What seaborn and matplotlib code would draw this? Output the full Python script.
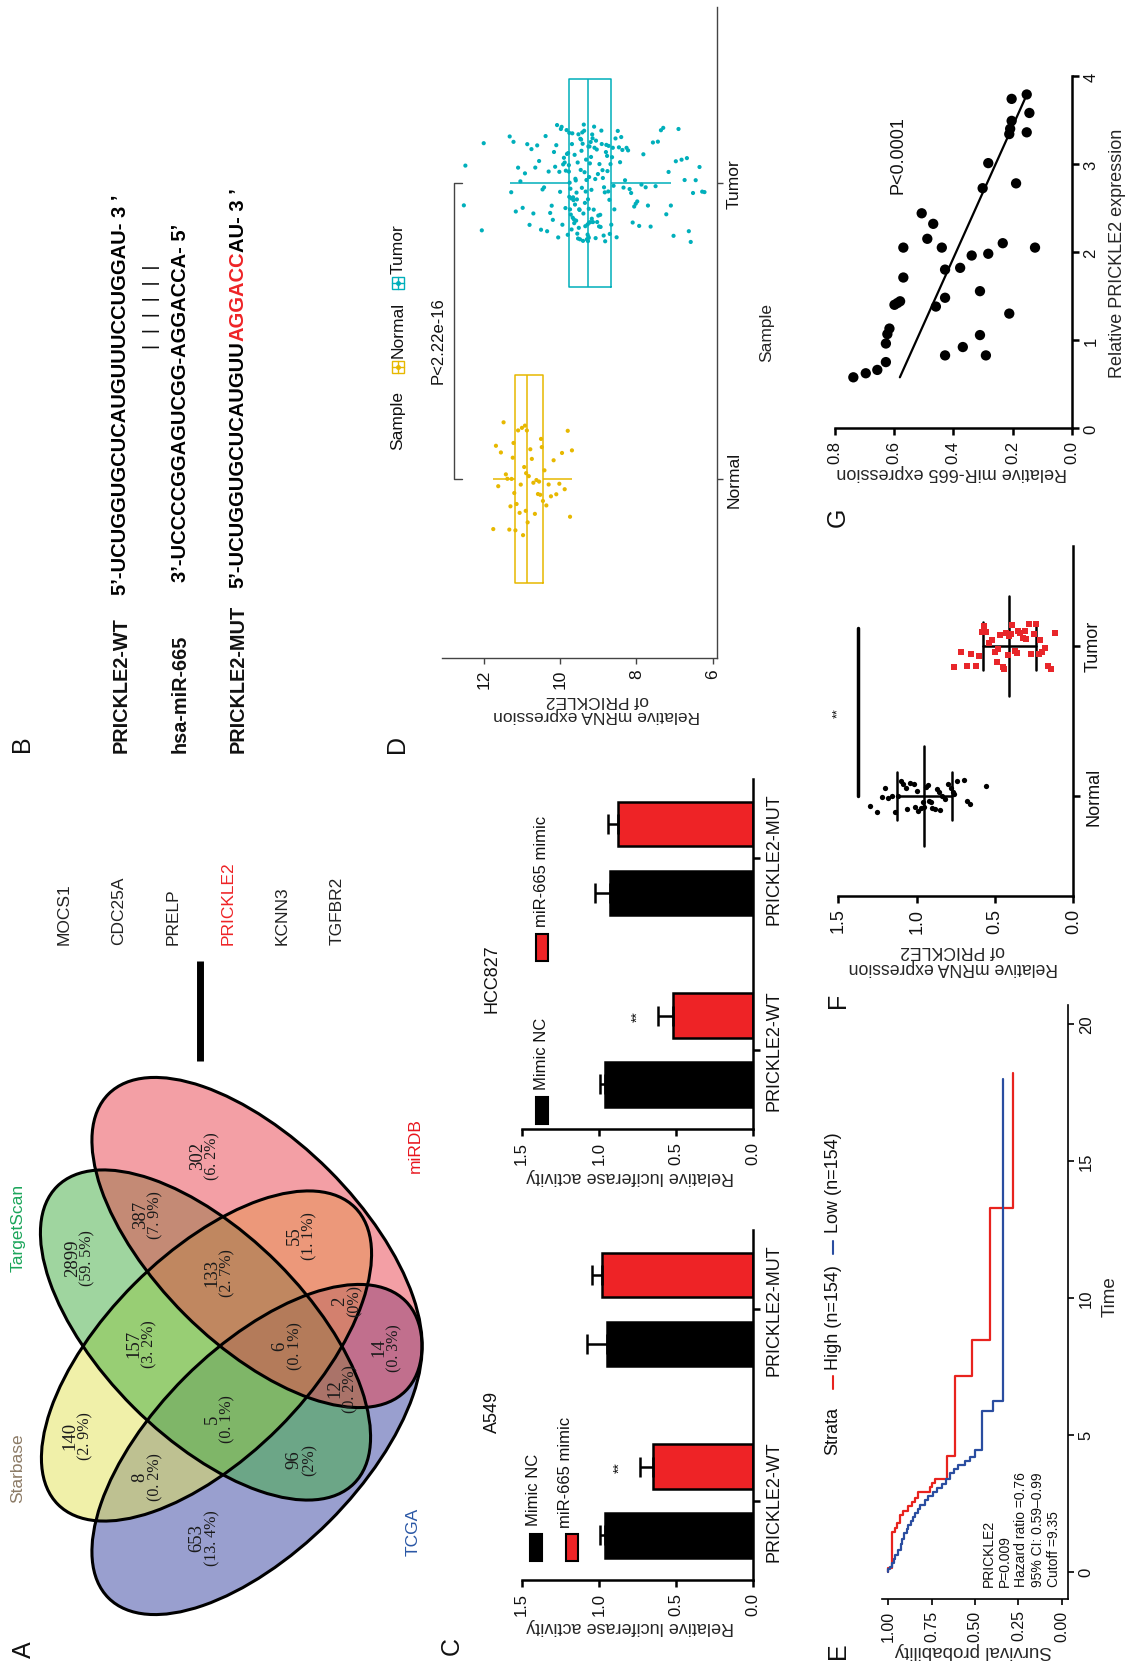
import numpy as np
import pandas as pd
import matplotlib
matplotlib.use('Agg')
import matplotlib.pyplot as plt
import seaborn as sns
from matplotlib.patches import Ellipse, Rectangle

W, H = 1127, 1665

# ---------------- data ----------------
# A: venn of predicted targets
venn_sets = ['Starbase', 'TargetScan', 'miRDB', 'TCGA']
venn_fill = ['#E3E355', '#41AD41', '#E9414D', '#3541A1']
venn_label_col = ['#8C7B66', '#1BA55A', '#E8161E', '#2A57A5']
venn_counts = ['140', '2899', '302', '653', '8', '387', '157', '133',
               '5', '55', '96', '6', '2', '12', '14']
venn_pcts = ['(2. 9%)', '(59. 5%)', '(6. 2%)', '(13. 4%)', '(0. 2%)', '(7. 9%)',
             '(3. 2%)', '(2. 7%)', '(0. 1%)', '(1. 1%)', '(2%)', '(0. 1%)',
             '(0%)', '(0. 2%)', '(0. 3%)']
common_genes = ['MOCS1', 'CDC25A', 'PRELP', 'PRICKLE2', 'KCNN3', 'TGFBR2']

# B: binding site
wt_seq = '5\u2019-UCUGGUGCUCAUGUUUCCUGGAU- 3 \u2019'
mir_seq = '3\u2019-UCCCCGGAGUCGG-AGGACCA- 5\u2019'
mut_seq = ['5\u2019-UCUGGUGCUCAUGUU', 'AGGACC', 'AU- 3 \u2019']

# C: luciferase (WT-NC, WT-mimic, MUT-NC, MUT-mimic)
c_cats = ['PRICKLE2-WT', 'PRICKLE2-MUT']
c_treat = ['Mimic NC', 'miR-665 mimic']
a549_mean = [0.96, 0.65, 0.95, 0.98]
a549_sd = [0.035, 0.085, 0.13, 0.065]
hcc_mean = [0.96, 0.52, 0.93, 0.875]
hcc_sd = [0.03, 0.097, 0.097, 0.065]

# D: TCGA expression
normal_expr = [11.75, 11.68, 11.62, 11.55, 11.48, 11.42, 11.38, 11.33, 11.3, 11.27,
               11.24, 11.22, 11.2, 11.17, 11.14, 11.1, 11.06, 11.03, 11.0, 10.97,
               10.94, 10.92, 10.9, 10.89, 10.87, 10.85, 10.82, 10.78, 10.74, 10.7,
               10.66, 10.62, 10.58, 10.55, 10.52, 10.5, 10.48, 10.45, 10.41, 10.36,
               10.3, 10.24, 10.17, 10.1, 10.02, 9.95, 9.88, 9.8, 9.74, 9.69]
tumor_expr = [6.22, 6.28, 6.35, 6.45, 6.52, 6.58, 6.63, 6.68, 6.74, 6.82, 6.9, 6.97,
              7.03, 7.1, 7.16, 7.22, 7.3, 7.36, 7.44, 7.5, 7.57, 7.63, 7.7, 7.76, 7.82,
              7.87, 7.93, 7.98, 8.02, 8.06, 8.1, 8.14, 8.18, 8.22, 8.26, 8.3, 8.34, 8.37,
              8.4, 8.43, 8.46, 8.49, 8.52, 8.55, 8.58, 8.6, 8.62, 8.64, 8.66, 8.68,
              8.7, 8.71, 8.73, 8.74, 8.76, 8.77, 8.79, 8.8, 8.82, 8.83, 8.85, 8.86, 8.88,
              8.89, 8.91, 8.92, 8.94, 8.95, 8.97, 8.98, 9.0, 9.01, 9.03, 9.04, 9.06, 9.07,
              9.08, 9.1, 9.11, 9.12, 9.14, 9.15, 9.16, 9.17, 9.18, 9.19, 9.2, 9.21, 9.22,
              9.23, 9.24, 9.24, 9.25, 9.25, 9.26, 9.26, 9.27, 9.27, 9.28, 9.28,
              9.3, 9.31, 9.32, 9.33, 9.34, 9.35, 9.36, 9.37, 9.38, 9.39, 9.4, 9.41, 9.42,
              9.43, 9.44, 9.45, 9.46, 9.47, 9.48, 9.49, 9.5, 9.51, 9.52, 9.53, 9.54, 9.55,
              9.56, 9.57, 9.58, 9.59, 9.6, 9.61, 9.62, 9.63, 9.64, 9.65, 9.66, 9.67, 9.68,
              9.69, 9.7, 9.71, 9.72, 9.73, 9.74, 9.75, 9.76, 9.76, 9.77, 9.77,
              9.79, 9.8, 9.82, 9.83, 9.85, 9.86, 9.88, 9.9, 9.92, 9.94, 9.96, 9.98,
              10.0, 10.02, 10.05, 10.08, 10.1, 10.13, 10.16, 10.19, 10.22, 10.26, 10.3,
              10.34, 10.38, 10.42, 10.46, 10.5, 10.55, 10.6, 10.65, 10.7, 10.75, 10.8,
              10.86, 10.92, 10.98, 11.04, 11.1, 11.16, 11.22, 11.28, 11.32,
              12.0, 12.05, 12.48, 12.52]
d_palette = {'Normal': '#E7B800', 'Tumor': '#00AFBB'}

# E: Kaplan-Meier
high_time = [0, 0.15, 1.46, 1.6, 1.77, 2.08, 2.23, 2.38, 2.54, 2.7, 2.92, 3.08, 3.23,
             3.38, 4.23, 7.15, 8.46, 13.3]
high_surv = [1.0, 0.98, 0.96, 0.948, 0.933, 0.913, 0.885, 0.865, 0.846, 0.827, 0.76,
             0.75, 0.73, 0.663, 0.615, 0.519, 0.413, 0.279]
high_end = 18.2
low_time = [0, 0.08, 0.18, 0.3, 0.45, 0.62, 0.8, 1.0, 1.2, 1.4, 1.55, 1.7, 1.85, 2.0,
            2.15, 2.3, 2.45, 2.6, 2.75, 2.9, 3.05, 3.2, 3.4, 3.6, 3.75, 3.9, 4.05, 4.2,
            4.46, 5.85, 6.23]
low_surv = [1.0, 0.99, 0.98, 0.97, 0.96, 0.945, 0.93, 0.92, 0.91, 0.895, 0.885, 0.87,
            0.86, 0.845, 0.83, 0.815, 0.79, 0.77, 0.745, 0.72, 0.69, 0.665, 0.645, 0.62,
            0.6, 0.56, 0.53, 0.5, 0.46, 0.395, 0.337]
low_end = 18.0

# F: qPCR tissues
f_normal = [1.30, 1.25, 1.22, 1.20, 1.18, 1.16, 1.14, 1.12, 1.10, 1.09, 1.07, 1.06,
            1.04, 1.02, 1.01, 1.00, 0.99, 0.97, 0.96, 0.95, 0.94, 0.93, 0.92, 0.91,
            0.90, 0.88, 0.87, 0.86, 0.85, 0.84, 0.82, 0.80, 0.78, 0.77, 0.76, 0.74,
            0.70, 0.68, 0.66, 0.56]
f_tumor = [0.76, 0.72, 0.68, 0.65, 0.62, 0.60, 0.58, 0.57, 0.56, 0.54, 0.52, 0.50,
           0.49, 0.48, 0.47, 0.45, 0.44, 0.43, 0.42, 0.41, 0.40, 0.39, 0.37, 0.36,
           0.35, 0.34, 0.32, 0.31, 0.30, 0.28, 0.27, 0.25, 0.24, 0.22, 0.21, 0.20,
           0.18, 0.16, 0.14, 0.12]

# G: correlation
g_prickle = [0.576, 0.622, 0.66, 0.749, 0.96, 1.067, 1.13, 1.40, 1.42, 1.44, 1.71, 2.05,
             2.44, 2.15, 2.32, 2.05, 1.80, 1.82, 1.38, 1.48, 0.825, 0.92, 1.96, 1.056,
             1.555, 0.825, 1.98, 2.725, 3.01, 2.10, 1.30, 3.34, 3.40, 3.49, 3.74, 2.78,
             3.36, 3.58, 3.79, 2.05]
g_mir = [0.738, 0.696, 0.657, 0.628, 0.628, 0.623, 0.616, 0.599, 0.589, 0.580, 0.569,
         0.569, 0.507, 0.488, 0.468, 0.439, 0.428, 0.377, 0.459, 0.428, 0.428, 0.368,
         0.338, 0.310, 0.310, 0.290, 0.282, 0.301, 0.282, 0.233, 0.211, 0.211, 0.208,
         0.203, 0.203, 0.188, 0.152, 0.143, 0.152, 0.124]

RED = '#EE2326'

# ---------------- figure ----------------
sns.set_style('white')
plt.rcParams['font.family'] = ['Liberation Sans', 'DejaVu Sans']
plt.rcParams['text.color'] = '#111111'

fig = plt.figure(figsize=(W / 100, H / 100), dpi=100, facecolor='white')
canvas = fig.add_axes([0, 0, 1, 1])
canvas.set_xlim(0, W)
canvas.set_ylim(H, 0)
canvas.axis('off')


def ctext(x, y, s, size, rot=90, ha='center', va='center', **kw):
    return canvas.text(x, y, s, fontsize=size, rotation=rot, ha=ha, va=va, **kw)


def panel_axes(box):
    x0, y0, x1, y1 = box
    ax = fig.add_axes([x0 / W, 1 - y1 / H, (x1 - x0) / W, (y1 - y0) / H])
    ax.set_facecolor('none')
    for s in ['top', 'left']:
        ax.spines[s].set_visible(False)
    ax.yaxis.tick_right()
    ax.yaxis.set_label_position('right')
    return ax


def style_ticks(ax, xsize, ysize, lw, color='black', length=5):
    ax.tick_params(axis='both', direction='out', length=length, width=lw, colors=color,
                   bottom=True, right=True, left=False, top=False)
    for lab in ax.get_xticklabels():
        lab.set_rotation(90)
        lab.set_ha('center')
        lab.set_va('top')
        lab.set_fontsize(xsize)
        lab.set_color('#111111')
    for lab in ax.get_yticklabels():
        lab.set_rotation(90)
        lab.set_ha('left')
        lab.set_va('center')
        lab.set_fontsize(ysize)
        lab.set_color('#111111')
    for s in ['bottom', 'right']:
        ax.spines[s].set_linewidth(lw)
        ax.spines[s].set_color(color)


def xlabel_at(ax, box, text, x_px, y_px, size):
    x0, y0, x1, y1 = box
    ax.set_xlabel(text, fontsize=size, rotation=180, ha='center', va='center', linespacing=1.05)
    ax.xaxis.set_label_coords((x_px - x0) / (x1 - x0), (y1 - y_px) / (y1 - y0))


def ylabel_at(ax, box, text, x_px, y_px, size):
    x0, y0, x1, y1 = box
    ax.set_ylabel(text, fontsize=size, rotation=90, ha='center', va='center')
    ax.yaxis.set_label_coords((x_px - x0) / (x1 - x0), (y1 - y_px) / (y1 - y0))


# panel letters
for lab, (lx, ly) in zip('ABCDEFG', [(24, 1650), (22, 744), (452, 1646), (397, 744),
                                    (838, 1651), (838, 1000), (838, 517)]):
    ctext(lx, ly, lab, 18)

# ---------------- A: venn ----------------
venn_centers = [(206.5, 1357), (205.5, 1336), (257, 1243.5), (257, 1450.5)]
venn_angles = [-45, 45, 45, -45]
# TCGA goes under, miRDB on top
for i in [3, 0, 1, 2]:
    canvas.add_patch(Ellipse(venn_centers[i], 420, 204, angle=venn_angles[i],
                             facecolor=venn_fill[i], alpha=0.5, edgecolor='none'))
for (cx, cy), ang in zip(venn_centers, venn_angles):
    canvas.add_patch(Ellipse((cx, cy), 420, 204, angle=ang, fill=False,
                             edgecolor='black', lw=2.2))
region_xy = [(78, 1436), (80, 1258), (205, 1156), (205, 1538), (148, 1477), (148, 1215),
             (142, 1344), (220, 1273), (220, 1419), (302, 1236), (302, 1460), (288, 1346),
             (347, 1301), (343, 1389), (387, 1348)]
for (rx, ry), cnt, pct in zip(region_xy, venn_counts, venn_pcts):
    ctext(rx - 7.8, ry, cnt, 13.5, family='Liberation Serif', color='#1a1a1a')
    ctext(rx + 7.8, ry, pct, 11.5, family='Liberation Serif', color='#1a1a1a')
for name, col, (lx, ly) in zip(venn_sets, venn_label_col,
                               [(18, 1468), (18, 1228), (415, 1146), (413, 1532)]):
    ctext(lx, ly, name, 12.5, color=col)

# gene list + bar
for i, g in enumerate(common_genes):
    ctext(64 + i * 54.6, 945, g, 12.5, va='bottom',
          color=RED if g == 'PRICKLE2' else '#222222')
canvas.plot([200, 200], [962, 1062], color='black', lw=5, solid_capstyle='butt')

# ---------------- B: sequences ----------------
renderer = fig.canvas.get_renderer()
inv = canvas.transData.inverted()


def seq_text(x, y, parts, size=14.5):
    for s, c in parts:
        t = ctext(x, y, s, size, va='bottom', color=c, fontweight='bold')
        bb = t.get_window_extent(renderer)
        y = inv.transform((bb.x0, bb.y1))[1]


ctext(121, 753, 'PRICKLE2-WT', 14.3, va='bottom', fontweight='bold')
ctext(180, 753, 'hsa-miR-665', 14.3, va='bottom', fontweight='bold')
ctext(238, 753, 'PRICKLE2-MUT', 14.3, va='bottom', fontweight='bold')
seq_text(121, 595, [(wt_seq, 'black')])
seq_text(180, 582, [(mir_seq, 'black')])
seq_text(238, 588, [(mut_seq[0], 'black'), (mut_seq[1], RED), (mut_seq[2], 'black')])
ctext(151, 349, '|  |  |  |  |  |', 14, va='bottom')

# ---------------- C: luciferase ----------------
def bar_panel(box, means, sds):
    ax = panel_axes(box)
    df = pd.DataFrame({'cat': np.repeat(c_cats, 2), 'treat': c_treat * 2, 'val': means})
    sns.barplot(data=df, x='val', y='cat', hue='treat', order=c_cats, hue_order=c_treat,
                palette=['black', RED], orient='h', width=0.72, gap=0.35, errorbar=None,
                edgecolor='black', linewidth=1.8, saturation=1, legend=False, ax=ax)
    pos = np.repeat(np.arange(2), 2) + np.tile([-0.18, 0.18], 2)
    ax.errorbar(means, pos, xerr=[np.zeros(4), sds], fmt='none', ecolor='black',
                elinewidth=1.8, capsize=7, capthick=1.8)
    ax.text(means[1] + sds[1] + 0.13, 0.18, '**', rotation=90, ha='center', va='center',
            fontsize=10)
    ax.set_xlim(1.5, 0)
    ax.set_ylim(-0.4125, 1.415)
    ax.set_xticks([0, 0.5, 1.0, 1.5], ['0.0', '0.5', '1.0', '1.5'])
    ax.set_yticks([0, 1], c_cats)
    style_ticks(ax, 12, 13, 1.8)
    xlabel_at(ax, box, 'Relative luciferase activity', 630, box[3] + 46, 13)
    ax.set_ylabel('')
    return ax


box_a549 = (521.7, 1231, 753.3, 1581)
box_hcc = (521.7, 780, 753.3, 1130)
bar_panel(box_a549, a549_mean, a549_sd)
bar_panel(box_hcc, hcc_mean, hcc_sd)
ctext(492, 1412, 'A549', 13)
ctext(492, 979, 'HCC827', 13)
# legends
canvas.add_patch(Rectangle((530, 1535), 12, 27, facecolor='black', edgecolor='black', lw=1.5))
ctext(534, 1526, c_treat[0], 12, va='bottom')
canvas.add_patch(Rectangle((566, 1535), 12, 27, facecolor=RED, edgecolor='black', lw=1.5))
ctext(566, 1528, c_treat[1], 12, va='bottom')
canvas.add_patch(Rectangle((536, 1098), 12, 27, facecolor='black', edgecolor='black', lw=1.5))
ctext(542, 1090, c_treat[0], 12, va='bottom')
canvas.add_patch(Rectangle((536, 935), 12, 27, facecolor=RED, edgecolor='black', lw=1.5))
ctext(542, 927, c_treat[1], 12, va='bottom')

# ---------------- D: TCGA box ----------------
box_d = (441.7, 7.5, 716.7, 659)
ax = panel_axes(box_d)
df_d = pd.DataFrame({'Sample': ['Normal'] * len(normal_expr) + ['Tumor'] * len(tumor_expr),
                     'expr': normal_expr + tumor_expr})
sns.boxplot(data=df_d, x='expr', y='Sample', hue='Sample', order=['Normal', 'Tumor'],
            palette=d_palette, fill=False, width=0.7, showcaps=False, showfliers=False,
            linewidth=1.1, legend=False, orient='h', ax=ax)
np.random.seed(7)
sns.stripplot(data=df_d, x='expr', y='Sample', hue='Sample', order=['Normal', 'Tumor'],
              palette=d_palette, jitter=0.2, size=3, legend=False, orient='h', ax=ax)
ax.plot([12.56, 12.78, 12.78, 12.56], [0, 0, 1, 1], color='#444444', lw=1)
ax.text(13.2, 0.47, 'P<2.22e-16', rotation=90, ha='center', va='center', fontsize=12)
ax.set_xlim(13.1, 5.9)
ax.set_ylim(-0.605, 1.596)
ax.set_xticks([6, 8, 10, 12], ['6', '8', '10', '12'])
ax.set_yticks([0, 1], ['Normal', 'Tumor'])
style_ticks(ax, 12.5, 12.5, 1.0, color='#444444', length=4)
xlabel_at(ax, box_d, 'Relative mRNA expression\nof PRICKLE2', 597, 708, 12.5)
ylabel_at(ax, box_d, 'Sample', 767, 333, 12.5)
# legend above plot
ctext(398, 450, 'Sample', 12.5, va='bottom')
for (ky, ty, name) in [(368, 358, 'Normal'), (284, 274, 'Tumor')]:
    col = d_palette[name]
    canvas.add_patch(Rectangle((398 - 6, ky - 6), 12, 12, fill=False, edgecolor=col, lw=1))
    canvas.plot([392, 404], [ky, ky], color=col, lw=1)
    canvas.plot([398, 398], [ky - 6, ky + 6], color=col, lw=1)
    canvas.plot([398], [ky], 'o', color=col, ms=2.5)
    ctext(398, ty, name, 12.5, va='bottom')

# ---------------- E: survival ----------------
box_e = (881.7, 1006, 1068.3, 1600)
ax = panel_axes(box_e)


def km_path(t, p, t_end):
    ys = np.append(np.repeat(t, 2)[1:], t_end)
    xs = np.repeat(p, 2)
    return xs, ys


hx, hy = km_path(high_time, high_surv, high_end)
lx, ly = km_path(low_time, low_surv, low_end)
ax.plot(hx, hy, color='#E8231E', lw=1.6)
ax.plot(lx, ly, color='#2A4DA0', lw=1.6)
ax.set_xlim(1.0387, -0.038)
ax.set_ylim(-1.0, 20.7)
ax.set_xticks([0, 0.25, 0.5, 0.75, 1.0], ['0.00', '0.25', '0.50', '0.75', '1.00'])
ax.set_yticks([0, 5, 10, 15, 20], ['0', '5', '10', '15', '20'])
style_ticks(ax, 11.5, 12, 1.2, length=4)
xlabel_at(ax, box_e, 'Survival probability', 973, 1651, 13.5)
ylabel_at(ax, box_e, 'Time', 1110, 1297, 13.5)
canvas.text(982, 1587, 'PRICKLE2\nP=0.009\nHazard ratio =0.76\n95% CI: 0.59\u20130.99\nCutoff =9.35',
            rotation=90, ha='left', va='bottom', multialignment='left', fontsize=10,
            linespacing=1.2)
ctext(833, 1431, 'Strata', 13)
canvas.plot([833, 833], [1377, 1390], color='#E8231E', lw=1.5)
ctext(833, 1318, 'High (n=154)', 13)
canvas.plot([833, 833], [1242, 1255], color='#2A4DA0', lw=1.5)
ctext(833, 1183, 'Low (n=154)', 13)

# ---------------- F: tissue qPCR ----------------
box_f = (838.3, 546.7, 1073.3, 896.7)
ax = panel_axes(box_f)
df_fn = pd.DataFrame({'grp': 'Normal', 'expr': f_normal})
df_ft = pd.DataFrame({'grp': 'Tumor', 'expr': f_tumor})
np.random.seed(11)
sns.stripplot(data=df_fn, x='expr', y='grp', order=['Normal', 'Tumor'], color='black',
              marker='o', size=3.8, jitter=0.11, orient='h', ax=ax)
sns.stripplot(data=df_ft, x='expr', y='grp', order=['Normal', 'Tumor'], color='#E8262A',
              marker='s', size=4.4, jitter=0.16, orient='h', ax=ax)
for i, vals in enumerate([f_normal, f_tumor]):
    m, sd = np.mean(vals), np.std(vals, ddof=1)
    ax.plot([m, m], [i - 0.333, i + 0.333], color='black', lw=1.8)
    ax.plot([m - sd, m + sd], [i, i], color='black', lw=1.8)
    ax.plot([m - sd, m - sd], [i - 0.16, i + 0.16], color='black', lw=1.8)
    ax.plot([m + sd, m + sd], [i - 0.16, i + 0.16], color='black', lw=1.8)
ax.plot([1.372, 1.372], [0, 1.12], color='black', lw=2.5)
ax.text(1.5, 0.556, '**', rotation=90, ha='center', va='center', fontsize=9)
ax.set_xlim(1.5, 0)
ax.set_ylim(-0.667, 1.667)
ax.set_xticks([0, 0.5, 1.0, 1.5], ['0.0', '0.5', '1.0', '1.5'])
ax.set_yticks([0, 1], ['Normal', 'Tumor'])
style_ticks(ax, 13, 13, 1.8)
xlabel_at(ax, box_f, 'Relative mRNA expression\nof PRICKLE2', 953, 959, 12.7)
ax.set_ylabel('')

# ---------------- G: correlation ----------------
box_g = (835, 77, 1071.7, 429)
ax = panel_axes(box_g)
sns.scatterplot(x=g_mir, y=g_prickle, color='black', s=55, edgecolor='none', ax=ax)
coef = np.polyfit(g_prickle, g_mir, 1)
uu = np.array([min(g_prickle), max(g_prickle)])
ax.plot(np.polyval(coef, uu), uu, color='black', lw=1.6)
ax.text(0.586, 3.11, 'P<0.0001', rotation=90, ha='center', va='center', fontsize=13)
ax.set_xlim(0.8, 0)
ax.set_ylim(0, 4)
ax.set_xticks([0, 0.2, 0.4, 0.6, 0.8], ['0.0', '0.2', '0.4', '0.6', '0.8'])
ax.set_yticks([0, 1, 2, 3, 4], ['0', '1', '2', '3', '4'])
style_ticks(ax, 12, 12, 1.8)
xlabel_at(ax, box_g, 'Relative miR-665 expression', 952, 473, 13)
ylabel_at(ax, box_g, 'Relative PRICKLE2 expression', 1118, 253, 13)

fig.savefig('out.png', dpi=100, facecolor='white')
